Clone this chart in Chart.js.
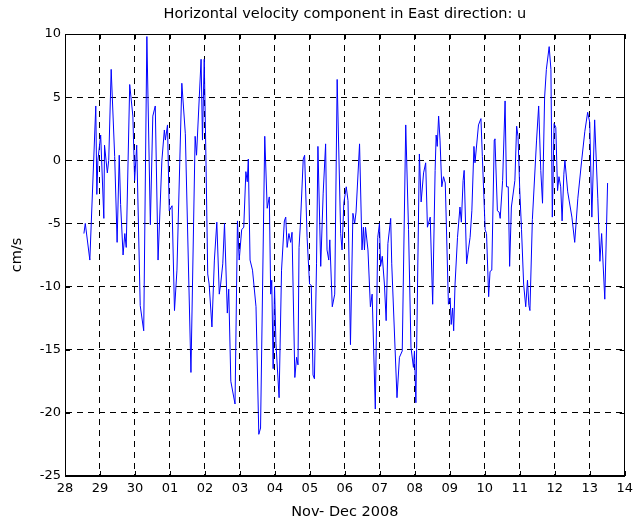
<!DOCTYPE html>
<html>
<head>
<meta charset="utf-8">
<script src="https://cdn.jsdelivr.net/npm/chart.js@4/dist/chart.umd.min.js"></script>
<style>
  html, body { margin: 0; padding: 0; background: #fff; }
  #wrap { position: relative; width: 638px; height: 529px; }
</style>
</head>
<body>
<div id="wrap"><canvas id="c" width="638" height="529"></canvas></div>
<script>
// Time axis: day number counted from Nov 28 (Dec 01 = 31, Dec 14 = 44)
const xTickLabels = ['28','29','30','01','02','03','04','05','06','07','08','09','10','11','12','13','14'];
const yMin = -25, yMax = 10, yStep = 5;

const times = [
  28.54,28.58,28.71,28.88,28.91,28.94,29.02,29.11,29.13,29.21,29.25,29.32,29.42,29.49,29.55,29.59,29.66,29.71,29.75,29.85,
  29.94,29.99,30.05,30.15,30.25,30.34,30.44,30.51,30.58,30.66,30.77,30.84,30.87,30.93,30.98,31.06,31.13,31.20,31.34,31.44,
  31.60,31.72,31.76,31.89,31.93,31.98,32.03,32.08,32.12,32.20,32.27,32.34,32.41,32.45,32.51,32.56,32.64,32.68,32.74,32.86,
  32.93,32.98,33.05,33.11,33.17,33.21,33.24,33.29,33.36,33.46,33.54,33.59,33.71,33.78,33.84,33.88,33.91,33.95,33.99,34.03,
  34.12,34.19,34.27,34.31,34.35,34.40,34.45,34.49,34.57,34.62,34.66,34.69,34.73,34.81,34.85,34.92,34.99,35.04,35.09,35.13,
  35.19,35.23,35.31,35.38,35.45,35.49,35.54,35.57,35.64,35.71,35.78,35.88,35.92,35.97,36.04,36.09,36.16,36.23,36.28,36.32,
  36.42,36.49,36.53,36.56,36.59,36.66,36.73,36.78,36.87,36.94,36.99,37.02,37.07,37.13,37.18,37.23,37.31,37.34,37.49,37.56,
  37.64,37.74,37.82,37.89,37.96,37.99,38.03,38.13,38.18,38.25,38.31,38.36,38.44,38.51,38.58,38.61,38.64,38.68,38.72,38.77,
  38.82,38.87,38.96,39.01,39.04,39.08,39.11,39.15,39.22,39.29,39.33,39.38,39.41,39.48,39.53,39.58,39.63,39.69,39.72,39.82,
  39.89,39.93,40.01,40.05,40.11,40.15,40.20,40.27,40.29,40.36,40.41,40.44,40.51,40.58,40.62,40.67,40.71,40.76,40.86,40.91,
  40.95,41.00,41.05,41.11,41.17,41.22,41.26,41.29,41.36,41.48,41.54,41.60,41.65,41.71,41.76,41.84,41.89,41.93,41.98,42.03,
  42.08,42.12,42.17,42.21,42.26,42.29,42.37,42.49,42.57,42.66,42.77,42.86,42.94,43.00,43.06,43.14,43.23,43.29,43.34,43.43,
  43.51
];

const uValues = [
  -5.8,-5.0,-7.9,4.3,-2.7,0.0,2.0,-4.6,1.2,-1.0,0.0,7.2,0.3,-6.5,0.4,-3.5,-7.5,-5.8,-6.9,6.0,
  3.5,-1.6,1.2,-11.5,-13.5,9.8,-5.1,3.5,4.3,-7.9,0.0,2.4,1.6,2.8,-4.0,-3.6,-11.9,-8.7,6.1,2.1,
  -16.8,1.9,0.4,8.0,1.6,8.0,0.0,-9.0,-9.8,-13.2,-7.9,-4.9,-10.6,-9.8,-8.2,-5.0,-12.1,-10.2,-17.5,-19.3,
  -4.8,-7.9,-5.5,-5.3,-0.9,-1.7,0.1,-7.9,-8.7,-11.6,-21.7,-21.2,1.9,-3.8,-2.9,-10.6,-9.5,-16.5,-10.0,-14.5,
  -18.8,-8.7,-4.8,-4.5,-6.9,-5.8,-6.5,-5.7,-17.2,-15.6,-16.2,-6.9,-5.0,0.1,0.4,-6.1,-9.8,-9.9,-17.0,-17.3,
  -8.2,1.1,-8.4,-2.6,1.3,-7.1,-7.9,-6.3,-11.6,-10.6,6.4,-5.8,-7.1,-3.4,-2.1,-3.2,-14.6,-4.2,-5.0,-4.1,
  1.3,-7.1,-5.3,-7.1,-5.3,-7.1,-11.6,-10.6,-19.7,-6.1,-5.0,-8.4,-7.6,-9.8,-12.7,-6.6,-4.6,-8.2,-18.8,-15.6,
  -15.1,2.8,-5.5,-14.8,-16.4,-15.1,-19.2,0.5,-3.3,-1.0,-0.2,-5.3,-4.5,-11.4,-0.8,2.0,1.1,3.5,1.6,-2.1,
  -1.3,-1.8,-11.4,-10.9,-13.0,-11.7,-13.5,-9.8,-6.1,-3.7,-4.9,-1.6,-0.8,-8.2,-7.1,-6.1,-4.0,1.1,-0.2,2.8,
  3.3,0.3,-5.5,-5.8,-10.8,-8.8,-8.7,1.6,1.7,-4.0,-4.1,-4.6,-1.6,4.7,-2.1,-2.1,-8.4,-3.7,-1.6,2.7,
  1.9,-2.4,-5.5,-9.8,-11.6,-9.5,-11.5,-11.9,-4.7,1.6,4.3,-0.8,-3.4,5.0,7.2,9.0,7.2,-4.5,2.9,2.6,
  -2.4,-1.3,-2.1,-4.8,-1.1,0.0,-2.5,-4.5,-6.5,-3.0,0.0,2.3,3.8,3.0,-4.5,3.2,-3.0,-8.0,-5.8,-11.0,
  -1.8
];

const points = times.map((t, i) => ({ x: t, y: uValues[i] }));

const FONT = '"DejaVu Sans", "Liberation Sans", Arial, sans-serif';

const framePlugin = {
  id: 'frame',
  afterDraw(chart) {
    const { ctx, chartArea: a, scales } = chart;
    ctx.save();
    ctx.strokeStyle = '#000';
    ctx.lineWidth = 1;
    ctx.setLineDash([]);
    ctx.strokeRect(Math.round(a.left) + 0.5, Math.round(a.top) + 0.5,
                   Math.round(a.right - a.left) - 1, Math.round(a.bottom - a.top) - 1);
    const tl = 5;
    ctx.beginPath();
    scales.x.ticks.forEach(t => {
      const px = Math.round(scales.x.getPixelForValue(t.value)) + 0.5;
      ctx.moveTo(px, a.bottom); ctx.lineTo(px, a.bottom - tl);
      ctx.moveTo(px, a.top); ctx.lineTo(px, a.top + tl);
    });
    scales.y.ticks.forEach(t => {
      const py = Math.round(scales.y.getPixelForValue(t.value)) + 0.5;
      ctx.moveTo(a.left, py); ctx.lineTo(a.left + tl, py);
      ctx.moveTo(a.right, py); ctx.lineTo(a.right - tl, py);
    });
    ctx.stroke();
    ctx.restore();
  }
};

new Chart(document.getElementById('c'), {
  type: 'line',
  data: {
    datasets: [{
      data: points,
      borderColor: '#0000ff',
      borderWidth: 1,
      pointRadius: 0,
      tension: 0,
      fill: false
    }]
  },
  options: {
    responsive: false,
    animation: false,
    layout: { padding: { left: 0, right: 12, top: 0, bottom: 0 } },
    plugins: {
      legend: { display: false },
      tooltip: { enabled: false },
      title: {
        display: true,
        text: 'Horizontal velocity component in East direction: u',
        fullSize: false,
        color: '#000',
        font: { family: FONT, size: 14.5, weight: 'normal', lineHeight: 1.2 },
        padding: { top: 5.3, bottom: 11.3 }
      }
    },
    scales: {
      x: {
        type: 'linear',
        min: 28, max: 44,
        afterFit(s) { s.height = 53; },
        ticks: {
          stepSize: 1,
          color: '#000',
          padding: 5,
          maxRotation: 0,
          autoSkip: false,
          font: { family: FONT, size: 13 },
          callback: (v) => xTickLabels[Math.round(v) - 28]
        },
        grid: { color: '#000', lineWidth: 1, drawTicks: false, borderDash: [6, 5] },
        border: { display: true, color: '#000', dash: [6, 5] },
        title: {
          display: true,
          text: 'Nov- Dec 2008',
          color: '#000',
          font: { family: FONT, size: 14.5, lineHeight: 1.2 },
          padding: { top: 0, bottom: 8.3 }
        }
      },
      y: {
        min: yMin, max: yMax,
        afterFit(s) { s.width = 65; },
        ticks: {
          stepSize: yStep,
          color: '#000',
          padding: 4,
          font: { family: FONT, size: 13 }
        },
        grid: { color: '#000', lineWidth: 1, drawTicks: false, borderDash: [6, 5] },
        border: { display: true, color: '#000', dash: [6, 5] },
        title: {
          display: true,
          text: 'cm/s',
          color: '#000',
          font: { family: FONT, size: 14.5, lineHeight: 1.2 },
          padding: { top: 8.3, bottom: 0 }
        }
      }
    }
  },
  plugins: [framePlugin]
});
</script>
</body>
</html>
